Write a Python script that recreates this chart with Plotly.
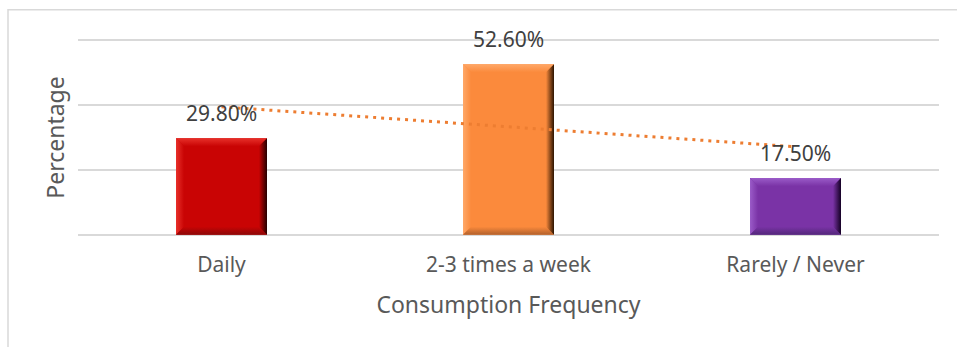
import numpy as np
import plotly.graph_objects as go

# Survey results: how often respondents consume the product
categories = ["Daily", "2-3 times a week", "Rarely / Never"]
percentages = [29.8, 52.6, 17.5]

# Per-bar colours: face, highlight (top/left bevel), shadow (right bevel), bottom bevel
face_colors = ["#C90404", "#FB8A3C", "#7A33A6"]
light_colors = ["#E8302A", "#FFA868", "#9A5BC8"]
dark_colors = ["#250000", "#2B1300", "#140024"]
bottom_colors = ["#8A0808", "#B0602C", "#52277A"]

y_ticks = [0, 20, 40, 60]

x_pos = np.arange(len(categories))
bar_width = 0.317
bevel_x = 0.028   # bevel depth in category units
bevel_y = 2.5     # bevel depth in percentage units

fig = go.Figure()

# Flat face of each bar
fig.add_trace(go.Bar(
    x=x_pos, y=percentages, width=bar_width,
    marker=dict(color=face_colors, line=dict(width=0)),
    hoverinfo="skip", showlegend=False,
))


def bevel(xs, ys, gtype, start, stop, c0, c1):
    fig.add_trace(go.Scatter(
        x=xs + [xs[0]], y=ys + [ys[0]], mode="lines", fill="toself",
        line=dict(width=0, color="rgba(0,0,0,0)"),
        fillgradient=dict(type=gtype, start=start, stop=stop,
                          colorscale=[[0, c0], [1, c1]]),
        hoverinfo="skip", showlegend=False,
    ))


# Bevelled edges around each bar face
for xc, v, fc, lc, dc, bc in zip(x_pos, percentages, face_colors,
                                  light_colors, dark_colors, bottom_colors):
    left, right = xc - bar_width / 2, xc + bar_width / 2
    # left edge
    bevel([left, left, left + bevel_x, left + bevel_x],
          [v, 0, bevel_y, v - bevel_y],
          "horizontal", left, left + bevel_x, lc, fc)
    # bottom edge
    bevel([left, right, right - bevel_x, left + bevel_x],
          [0, 0, bevel_y, bevel_y],
          "vertical", 0, bevel_y, bc, fc)
    # top edge
    bevel([left, right, right - bevel_x, left + bevel_x],
          [v, v, v - bevel_y, v - bevel_y],
          "vertical", v - bevel_y, v, fc, lc)
    # right edge
    bevel([right, right, right - bevel_x, right - bevel_x],
          [v, 0, bevel_y, v - bevel_y],
          "horizontal", right - bevel_x, right, fc, dc)

# Linear trendline through the three values
slope, intercept = np.polyfit(x_pos, percentages, 1)
fig.add_trace(go.Scatter(
    x=x_pos, y=slope * x_pos + intercept, mode="lines",
    line=dict(color="#ED7D31", width=3, dash="3px,5px"),
    hoverinfo="skip", showlegend=False,
))

# Value labels above bars
for xc, v in zip(x_pos, percentages):
    fig.add_annotation(
        x=xc, y=v, text=f"{v:.2f}%", showarrow=False,
        yanchor="bottom", yshift=9,
        font=dict(family="Noto Sans", size=21, color="#404040"),
    )

fig.update_layout(
    width=957, height=347,
    margin=dict(l=78, r=18, t=39, b=111),
    paper_bgcolor="white", plot_bgcolor="white",
    font=dict(family="Noto Sans", color="#595959"),
    xaxis=dict(
        range=[-0.5, 2.5], tickmode="array", tickvals=list(x_pos),
        ticktext=categories, showgrid=False, zeroline=False, showline=False,
        ticks="outside", ticklen=10, tickcolor="rgba(0,0,0,0)",
        tickfont=dict(size=21, color="#595959"),
        title=dict(text="Consumption Frequency", standoff=19,
                   font=dict(size=23, color="#595959")),
    ),
    yaxis=dict(
        range=[-0.35, 60.35], tickmode="array", tickvals=y_ticks,
        showticklabels=False, showgrid=True, gridcolor="#D9D9D9", gridwidth=2,
        zeroline=False, showline=False,
        title=dict(text="Percentage", standoff=5,
                   font=dict(size=23, color="#595959")),
    ),
    shapes=[dict(
        type="rect", xref="paper", yref="paper",
        x0=-0.0813, x1=1.03, y0=-0.6, y1=1.1487,
        line=dict(color="#D9D9D9", width=1.5), fillcolor="rgba(0,0,0,0)",
        layer="below",
    )],
)

fig.write_html("out.html")
